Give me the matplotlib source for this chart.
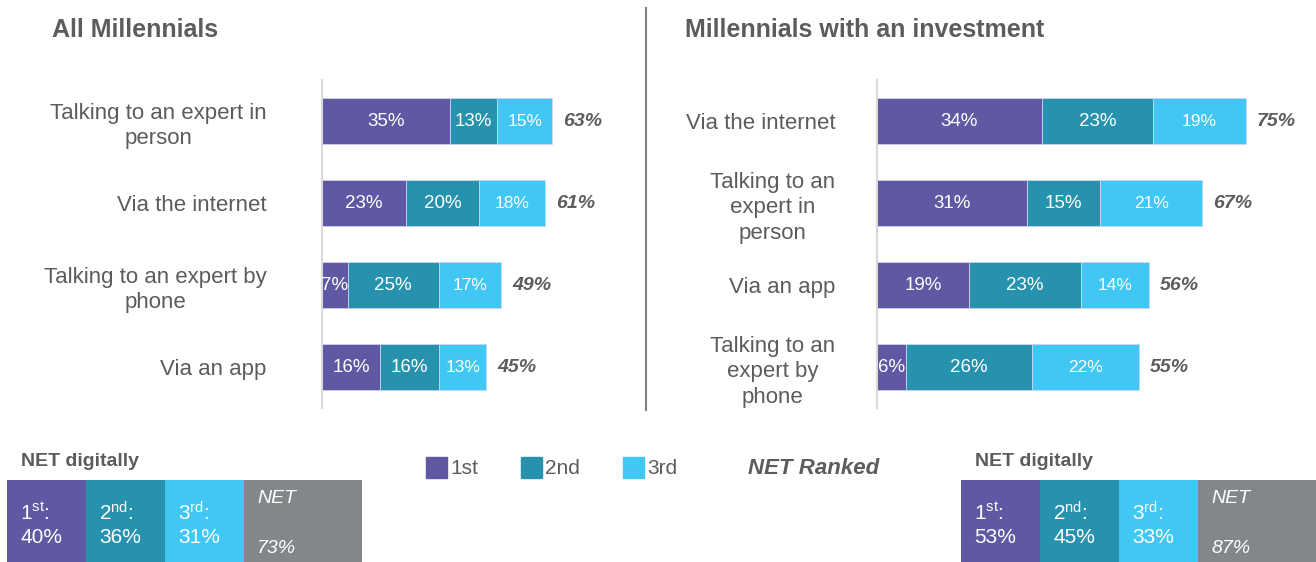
import matplotlib.pyplot as plt
from matplotlib.patches import Rectangle

plt.rcParams['font.family'] = ['Liberation Sans', 'DejaVu Sans']
plt.rcParams['mathtext.fontset'] = 'custom'
plt.rcParams['mathtext.rm'] = 'Liberation Sans'
plt.rcParams['mathtext.default'] = 'regular'

# Ranking shares (%) - all millennials
all_labels = ["Talking to an expert in\nperson", "Via the internet",
              "Talking to an expert by\nphone", "Via an app"]
all_first = [35, 23, 7, 16]
all_second = [13, 20, 25, 16]
all_third = [15, 18, 17, 13]
all_net = [63, 61, 49, 45]

# Ranking shares (%) - millennials with an investment
inv_labels = ["Via the internet", "Talking to an\nexpert in\nperson",
              "Via an app", "Talking to an\nexpert by\nphone"]
inv_first = [34, 31, 19, 6]
inv_second = [23, 15, 23, 26]
inv_third = [19, 21, 14, 22]
inv_net = [75, 67, 56, 55]

# NET digitally summaries
all_digital = [40, 36, 31]
all_digital_net = 73
inv_digital = [53, 45, 33]
inv_digital_net = 87

rank_names = ["1st", "2nd", "3rd"]
rank_sup = ["1$^{st}$:", "2$^{nd}$:", "3$^{rd}$:"]
colors = ["#5F58A3", "#2692AD", "#41C7F3"]
net_grey = "#848789"
text_grey = "#5a5c5e"

W, H = 1316, 562
fig = plt.figure(figsize=(W / 100, H / 100), dpi=100)


def px(x0, y0, x1, y1):
    # pixel box (top-left origin) -> figure fraction rect
    return [x0 / W, 1 - y1 / H, (x1 - x0) / W, (y1 - y0) / H]


def ranked_panel(rect, xmax, labels, first, second, third, net, title, title_x, pad):
    ax = fig.add_axes(rect)
    ypos = range(len(labels))
    left = [0] * len(labels)
    for i, vals in enumerate([first, second, third]):
        bars = ax.barh(ypos, vals, left=left, height=0.56, color=colors[i],
                       edgecolor="#cfd3ee", linewidth=0.6)
        for b, v in zip(bars, vals):
            ax.text(b.get_x() + b.get_width() / 2, b.get_y() + b.get_height() / 2,
                    f"{v}%", color="white", ha="center", va="center",
                    fontsize=13.5 if i < 2 else 12.5, clip_on=True)
        left = [l + v for l, v in zip(left, vals)]
    for y, end, n in zip(ypos, left, net):
        ax.annotate(f"{n}%", (end, y), xytext=(8, 0), textcoords="offset points",
                    ha="left", va="center", fontsize=14, fontweight="bold",
                    fontstyle="italic", color=text_grey, annotation_clip=False)
    ax.set_xlim(0, xmax)
    ax.set_ylim(3.5, -0.5)
    ax.set_yticks(list(ypos))
    ax.set_yticklabels(labels, fontsize=16, color=text_grey,
                       multialignment="center", linespacing=1.3)
    ax.tick_params(axis="y", length=0, pad=pad)
    ax.set_xticks([])
    for s in ["top", "right", "bottom"]:
        ax.spines[s].set_visible(False)
    ax.spines["left"].set_color("#d9d9d9")
    ax.spines["left"].set_linewidth(1.5)
    ax.patch.set_alpha(0)
    fig.text(title_x / W, 1 - 30 / H, title, fontsize=18, fontweight="bold",
             color=text_grey, ha="left", va="center")
    return ax


ranked_panel(px(322, 80, 640, 408), 87, all_labels, all_first, all_second,
             all_third, all_net, "All Millennials", 52, 40)
ranked_panel(px(877, 80, 1316, 408), 90.5, inv_labels, inv_first, inv_second,
             inv_third, inv_net, "Millennials with an investment", 685, 30)

# divider between the two panels
fig.add_artist(plt.Line2D([646 / W, 646 / W], [1 - 8 / H, 1 - 410 / H],
                          color="#7f7f7f", linewidth=1.5))

# legend row
leg_x = [426, 521, 623]
for x, c, name in zip(leg_x, colors, rank_names):
    fig.add_artist(Rectangle((x / W, 1 - 478 / H), 21 / W, 21 / H,
                             color=c, transform=fig.transFigure))
    fig.text((x + 24) / W, 1 - 468 / H, name, fontsize=15, color=text_grey,
             ha="left", va="center")
fig.text(748 / W, 1 - 468 / H, "NET Ranked", fontsize=16, fontweight="bold",
         fontstyle="italic", color=text_grey, ha="left", va="center")


def digital_strip(x0, x1, title_x, values, net):
    ax = fig.add_axes(px(x0, 480, x1, 562))
    widths = [1, 1, 1, 1.5]
    starts = [0, 1, 2, 3]
    ax.barh([0, 0, 0, 0], widths, left=starts, height=1, align="edge",
            color=colors + [net_grey])
    for s, lab, v in zip(starts, rank_sup, values):
        ax.text(s + 0.17, 0.60, lab, color="white", fontsize=15, ha="left", va="center")
        ax.text(s + 0.17, 0.30, f"{v}%", color="white", fontsize=15, ha="left", va="center")
    ax.text(3.17, 0.78, "NET", color="white", fontsize=14, fontstyle="italic",
            ha="left", va="center")
    ax.text(3.17, 0.17, f"{net}%", color="white", fontsize=14, fontstyle="italic",
            ha="left", va="center")
    ax.set_xlim(0, 4.5)
    ax.set_ylim(0, 1)
    ax.axis("off")
    fig.text(title_x / W, 1 - 462 / H, "NET digitally", fontsize=14,
             fontweight="bold", color=text_grey, ha="left", va="center")


digital_strip(7, 362, 21, all_digital, all_digital_net)
digital_strip(961, 1316, 975, inv_digital, inv_digital_net)

fig.savefig("out.png", dpi=100)
